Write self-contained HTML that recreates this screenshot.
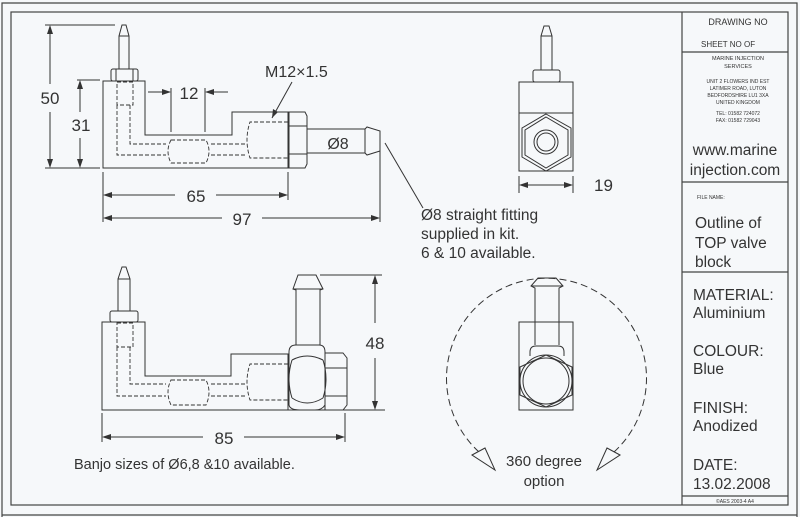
<!DOCTYPE html>
<html><head><meta charset="utf-8"><style>
html,body{margin:0;padding:0;background:#f6f8fa;}
svg{display:block;}
text{font-family:"Liberation Sans",sans-serif;fill:#333;}
</style></head><body>
<svg width="800" height="517" viewBox="0 0 800 517" xmlns="http://www.w3.org/2000/svg">
<rect width="800" height="517" fill="#f6f8fa"/>
<g fill="none" stroke="#444" stroke-width="1.2">
<polyline points="2,517 2,3 797,3 797,517"/>
<polyline points="2,515 797,515"/>
<rect x="11" y="12" width="777" height="493"/>
<line x1="682" y1="12" x2="682" y2="505"/>
<line x1="682" y1="52" x2="788" y2="52"/>
<line x1="682" y1="182" x2="788" y2="182"/>
<line x1="682" y1="272" x2="788" y2="272"/>
<line x1="682" y1="496" x2="788" y2="496"/>
</g>

<g fill="none" stroke="#333" stroke-width="1">
<!-- ===== TOP VIEW ===== -->
<polygon points="103,81 145,81 145,135 232,135 232,112 288,112 288,168 103,168"/>
<rect x="111" y="69" width="27" height="12" rx="2"/>
<line x1="116" y1="69" x2="116" y2="81"/><line x1="133" y1="69" x2="133" y2="81"/>
<polyline points="119,69 119,36 122,25 126,25 129,36 129,69"/>
<line x1="119" y1="36" x2="129" y2="36"/>
<path d="M289,112 L305,112 L307,116 L307,164 L305,168 L289,168 Z"/>
<line x1="289" y1="126" x2="307" y2="126"/><line x1="289" y1="154" x2="307" y2="154"/>
<rect x="307" y="129" width="58" height="24"/>
<polyline points="365,129 367,127 380,131 380,151 367,155 365,153"/>
<g stroke-dasharray="4,2" stroke-width="0.9">
<rect x="117" y="82" width="16" height="23"/>
<polyline points="117,105 117,155 166,155"/>
<polyline points="130,105 130,144 166,144"/>
<path d="M171,140 L206,140 Q212,151 206,163 L171,163 Q165,151 171,140 Z"/>
<line x1="211" y1="144" x2="247" y2="144"/><line x1="211" y1="155" x2="247" y2="155"/>
<path d="M288,122 L250,122 Q244,140 250,158 L288,158"/>
</g>
<line x1="45" y1="25" x2="115" y2="25"/><line x1="45" y1="168" x2="100" y2="168"/>
<line x1="50" y1="28" x2="50" y2="84"/><line x1="50" y1="112" x2="50" y2="166"/>
<line x1="77" y1="80" x2="100" y2="80"/>
<line x1="80" y1="83" x2="80" y2="112"/><line x1="80" y1="138" x2="80" y2="166"/>
<line x1="171" y1="88" x2="171" y2="132"/><line x1="205" y1="88" x2="205" y2="132"/>
<line x1="148" y1="92" x2="170" y2="92"/><line x1="206" y1="92" x2="228" y2="92"/>
<line x1="292" y1="82" x2="272" y2="118"/>
<line x1="103" y1="172" x2="103" y2="222"/><line x1="288" y1="172" x2="288" y2="200"/>
<line x1="380" y1="148" x2="380" y2="222"/>
<line x1="105" y1="195" x2="175" y2="195"/><line x1="216" y1="195" x2="286" y2="195"/>
<line x1="105" y1="218" x2="222" y2="218"/><line x1="262" y1="218" x2="378" y2="218"/>
<line x1="385" y1="143" x2="423" y2="208"/>

<!-- ===== RIGHT VIEW ===== -->
<rect x="519" y="82" width="54" height="89"/>
<line x1="519" y1="113" x2="573" y2="113"/>
<rect x="533" y="70" width="27" height="12" rx="2"/>
<polyline points="541,70 541,36 544,26 549,26 552,36 552,70"/>
<line x1="541" y1="36" x2="552" y2="36"/>
<polygon points="546,114 571,128 571,157 546,171 522,157 522,128"/>
<polygon points="546,117 568,130 568,155 546,168 525,155 525,130"/>
<circle cx="546" cy="142" r="12"/><circle cx="546" cy="142" r="9"/>
<line x1="519" y1="176" x2="519" y2="193"/><line x1="573" y1="176" x2="573" y2="193"/>
<line x1="521" y1="185" x2="571" y2="185"/>

<!-- ===== BOTTOM VIEW ===== -->
<polygon points="102,322 145,322 145,376 231,376 231,354 288,354 288,410 102,410"/>
<rect x="110" y="311" width="28" height="11" rx="2"/>
<polyline points="118,311 118,279 122,267 126,267 130,279 130,311"/>
<line x1="118" y1="279" x2="130" y2="279"/>
<path d="M289,352 Q289,345 296,345 L319,345 Q325,345 325,352 L325,405 Q322,410 315,410 L300,410 Q290,410 289,405 Z"/>
<path d="M292,360 Q307,352 323,360 M292,398 Q307,408 323,398 M292,360 Q286,379 292,398 M323,360 Q329,379 323,398"/>
<polyline points="296,345 296,290 293,289 298,275 316,275 323,289 320,290 320,345"/>
<line x1="293" y1="289" x2="323" y2="289"/>
<path d="M325,353 L343,353 L347,358 L347,405 L343,410 L325,410 Z"/>
<line x1="325" y1="368" x2="347" y2="368"/><line x1="325" y1="396" x2="347" y2="396"/>
<line x1="285" y1="410" x2="385" y2="410"/>
<g stroke-dasharray="4,2" stroke-width="0.9">
<rect x="117" y="323" width="16" height="24"/>
<polyline points="117,347 117,396 166,396"/>
<polyline points="130,347 130,384 166,384"/>
<path d="M171,380 L206,380 Q212,392 206,405 L171,405 Q165,392 171,380 Z"/>
<line x1="211" y1="384" x2="247" y2="384"/><line x1="211" y1="396" x2="247" y2="396"/>
<path d="M288,364 L250,364 Q244,382 250,400 L288,400"/>
</g>
<line x1="320" y1="275" x2="382" y2="275"/>
<line x1="375" y1="277" x2="375" y2="323"/><line x1="375" y1="358" x2="375" y2="408"/>
<line x1="102" y1="413" x2="102" y2="442"/><line x1="345" y1="413" x2="345" y2="442"/>
<line x1="104" y1="437" x2="203" y2="437"/><line x1="244" y1="437" x2="343" y2="437"/>

<!-- ===== ROTATION VIEW ===== -->
<path d="M479,452 A100,100 0 1 1 614,452" stroke-dasharray="7,4"/>
<rect x="519" y="322" width="54" height="88"/>
<polyline points="535,345 535,288 531,286 538,278 556,278 563,286 559,288 559,345"/>
<line x1="531" y1="286" x2="563" y2="286"/>
<path d="M530,356 L530,352 Q530,346 536,346 L558,346 Q564,346 564,352 L564,356"/>
<polygon points="546,355 572,367 572,395 546,407 520,395 520,367"/>
<circle cx="546" cy="381" r="26"/><circle cx="546" cy="381" r="23"/>
</g>
<g fill="#333">
<polygon points="50,25 47,34 53,34"/><polygon points="50,168 47,159 53,159"/>
<polygon points="80,80 77,89 83,89"/><polygon points="80,168 77,159 83,159"/>
<polygon points="171,92 162,89 162,95"/><polygon points="205,92 214,89 214,95"/>
<polygon points="103,195 112,192 112,198"/><polygon points="288,195 279,192 279,198"/>
<polygon points="103,218 112,215 112,221"/><polygon points="380,218 371,215 371,221"/>
<polygon points="272,118 273,109 278,112"/>
<polygon points="519,185 528,182 528,188"/><polygon points="573,185 564,182 564,188"/>
<polygon points="375,275 372,284 378,284"/><polygon points="375,410 372,401 378,401"/>
<polygon points="102,437 111,434 111,440"/><polygon points="345,437 336,434 336,440"/>
</g>
<polygon points="472,455 485,448 495,470" fill="#f6f8fa" stroke="#333" stroke-width="1"/>
<polygon points="620,455 607,448 597,470" fill="#f6f8fa" stroke="#333" stroke-width="1"/>

<text x="50" y="104" font-size="17" text-anchor="middle">50</text>
<text x="81" y="131" font-size="17" text-anchor="middle">31</text>
<text x="189" y="99" font-size="17" text-anchor="middle">12</text>
<text x="265" y="77" font-size="16">M12×1.5</text>
<text x="338" y="149" font-size="16" text-anchor="middle">Ø8</text>
<text x="196" y="202" font-size="17" text-anchor="middle">65</text>
<text x="242" y="225" font-size="17" text-anchor="middle">97</text>
<text x="421" y="220" font-size="15.5">Ø8 straight fitting</text>
<text x="421" y="239" font-size="15.5">supplied in kit.</text>
<text x="421" y="258" font-size="15.5">6 &amp; 10 available.</text>
<text x="594" y="191" font-size="17">19</text>
<text x="375" y="349" font-size="17" text-anchor="middle">48</text>
<text x="224" y="444" font-size="17" text-anchor="middle">85</text>
<text x="74" y="469" font-size="14.5">Banjo sizes of Ø6,8 &amp;10 available.</text>
<text x="544" y="466" font-size="15" text-anchor="middle">360 degree</text>
<text x="544" y="486" font-size="15" text-anchor="middle">option</text>

<text x="738" y="25" font-size="9" text-anchor="middle">DRAWING NO</text>
<text x="701" y="47" font-size="8">SHEET NO  OF</text>
<text x="738" y="60" font-size="5.5" text-anchor="middle">MARINE  INJECTION</text>
<text x="738" y="68" font-size="5.5" text-anchor="middle">SERVICES</text>
<text x="738" y="83" font-size="5" text-anchor="middle">UNIT 2 FLOWERS IND EST</text>
<text x="738" y="90" font-size="5" text-anchor="middle">LATIMER ROAD, LUTON</text>
<text x="738" y="97" font-size="5" text-anchor="middle">BEDFORDSHIRE LU1 3XA</text>
<text x="738" y="104" font-size="5" text-anchor="middle">UNITED KINGDOM</text>
<text x="738" y="115" font-size="5" text-anchor="middle">TEL: 01582 724072</text>
<text x="738" y="122" font-size="5" text-anchor="middle">FAX: 01582 729043</text>
<text x="735" y="155" font-size="15.5" text-anchor="middle">www.marine</text>
<text x="735" y="175" font-size="15.5" text-anchor="middle">injection.com</text>
<text x="697" y="199" font-size="5">FILE NAME:</text>
<text x="695" y="228" font-size="15.5">Outline of</text>
<text x="695" y="248" font-size="15.5">TOP valve</text>
<text x="695" y="267" font-size="15.5">block</text>
<text x="693" y="300" font-size="15.5">MATERIAL:</text>
<text x="693" y="318" font-size="15.5">Aluminium</text>
<text x="693" y="356" font-size="15.5">COLOUR:</text>
<text x="693" y="374" font-size="15.5">Blue</text>
<text x="693" y="413" font-size="15.5">FINISH:</text>
<text x="693" y="431" font-size="15.5">Anodized</text>
<text x="693" y="470" font-size="15.5">DATE:</text>
<text x="693" y="489" font-size="15.5">13.02.2008</text>
<text x="735" y="503" font-size="5" text-anchor="middle">©AES 2003-4 A4</text>
</svg>
</body></html>
